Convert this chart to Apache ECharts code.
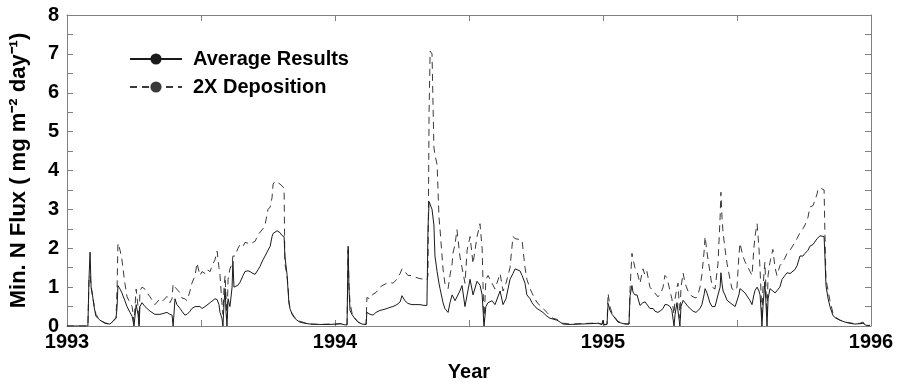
<!DOCTYPE html>
<html>
<head>
<meta charset="utf-8">
<script src="https://cdn.jsdelivr.net/npm/echarts@6/dist/echarts.min.js"></script>
<style>
html,body{margin:0;padding:0;background:#fff;}
#chart{width:898px;height:387px;}
</style>
</head>
<body>
<div id="chart"></div>
<script>
// Decimal years
var years = [1993.000,1993.078,1993.082,1993.086,1993.090,1993.093,1993.101,1993.108,1993.123,1993.142,1993.160,1993.172,1993.183,1993.187,1993.190,1993.198,1993.205,1993.216,1993.224,1993.235,1993.243,1993.250,1993.258,1993.261,1993.265,1993.269,1993.272,1993.280,1993.291,1993.299,1993.310,1993.328,1993.347,1993.358,1993.373,1993.384,1993.392,1993.396,1993.403,1993.410,1993.422,1993.429,1993.440,1993.448,1993.459,1993.466,1993.478,1993.485,1993.496,1993.504,1993.515,1993.522,1993.534,1993.541,1993.552,1993.560,1993.567,1993.571,1993.578,1993.582,1993.586,1993.590,1993.593,1993.597,1993.601,1993.608,1993.616,1993.619,1993.623,1993.627,1993.638,1993.646,1993.657,1993.664,1993.675,1993.683,1993.694,1993.702,1993.713,1993.720,1993.731,1993.739,1993.750,1993.758,1993.765,1993.769,1993.776,1993.784,1993.795,1993.802,1993.810,1993.813,1993.821,1993.825,1993.828,1993.832,1993.840,1993.847,1993.858,1993.869,1993.888,1993.907,1993.944,1993.981,1994.000,1994.019,1994.037,1994.045,1994.049,1994.052,1994.056,1994.063,1994.075,1994.086,1994.101,1994.116,1994.119,1994.131,1994.142,1994.153,1994.168,1994.179,1994.194,1994.205,1994.216,1994.231,1994.243,1994.250,1994.261,1994.272,1994.287,1994.302,1994.317,1994.332,1994.343,1994.347,1994.351,1994.355,1994.362,1994.369,1994.373,1994.381,1994.388,1994.392,1994.403,1994.410,1994.422,1994.429,1994.437,1994.440,1994.448,1994.455,1994.466,1994.474,1994.485,1994.493,1994.504,1994.515,1994.530,1994.541,1994.549,1994.556,1994.563,1994.571,1994.586,1994.597,1994.604,1994.616,1994.627,1994.638,1994.653,1994.664,1994.672,1994.679,1994.690,1994.698,1994.709,1994.716,1994.728,1994.735,1994.746,1994.754,1994.765,1994.776,1994.791,1994.802,1994.813,1994.828,1994.840,1994.851,1994.877,1994.914,1994.952,1994.981,1994.996,1995.000,1995.004,1995.015,1995.019,1995.026,1995.034,1995.045,1995.056,1995.063,1995.082,1995.097,1995.101,1995.108,1995.112,1995.119,1995.127,1995.138,1995.149,1995.157,1995.164,1995.175,1995.187,1995.194,1995.205,1995.216,1995.224,1995.231,1995.239,1995.250,1995.257,1995.265,1995.269,1995.276,1995.280,1995.287,1995.291,1995.299,1995.306,1995.317,1995.325,1995.336,1995.347,1995.354,1995.362,1995.369,1995.377,1995.381,1995.388,1995.392,1995.399,1995.407,1995.418,1995.429,1995.437,1995.440,1995.444,1995.448,1995.455,1995.463,1995.474,1995.481,1995.493,1995.500,1995.507,1995.511,1995.522,1995.530,1995.537,1995.549,1995.556,1995.563,1995.567,1995.575,1995.582,1995.586,1995.590,1995.593,1995.597,1995.604,1995.608,1995.612,1995.616,1995.623,1995.634,1995.642,1995.649,1995.660,1995.668,1995.679,1995.687,1995.698,1995.705,1995.716,1995.724,1995.735,1995.746,1995.754,1995.765,1995.772,1995.784,1995.791,1995.799,1995.802,1995.810,1995.817,1995.825,1995.828,1995.832,1995.840,1995.847,1995.858,1995.869,1995.884,1995.903,1995.922,1995.940,1995.959,1995.970,1995.981,1995.996];

// Average Results (mg m-2 day-1)
var averageResults = [0,0,1.2,1.9,1.0,0.9,0.5,0.25,0.15,0.07,0.05,0.12,0.2,0.5,1.04,0.95,0.85,0.65,0.5,0.35,0.25,0,0.55,0.6,0.3,0,0.5,0.6,0.5,0.45,0.38,0.3,0.3,0.32,0.35,0.3,0.28,0,0.7,0.55,0.45,0.38,0.28,0.3,0.38,0.45,0.5,0.55,0.5,0.45,0.5,0.55,0.6,0.62,0.7,0.68,0.55,0.35,0.2,0,0.6,0.96,0.4,0,0.7,0.5,1.0,1.67,1.0,0.96,1.05,1.13,1.3,1.4,1.42,1.4,1.35,1.33,1.45,1.53,1.7,1.8,1.95,2.05,2.3,2.38,2.42,2.45,2.4,2.33,2.3,1.8,1.33,0.9,0.6,0.45,0.3,0.22,0.15,0.1,0.07,0.05,0.04,0.04,0.05,0.06,0.03,0.03,2.05,1.0,0.4,0.3,0.18,0.1,0.05,0.04,0.35,0.3,0.28,0.35,0.4,0.42,0.45,0.48,0.5,0.55,0.62,0.78,0.65,0.58,0.55,0.55,0.55,0.53,0.53,2.5,3.2,3.19,3.0,2.6,1.8,1.4,1.1,0.96,0.6,0.45,0.35,0.6,0.8,0.75,0.65,0.6,0.9,1.04,0.5,0.8,1.2,0.8,1.15,1.05,0.8,0,0.5,0.6,0.65,0.55,0.5,0.9,0.55,0.7,1.2,1.35,1.47,1.45,1.42,1.3,1.1,0.8,0.7,0.6,0.5,0.45,0.4,0.35,0.25,0.2,0.18,0.15,0.1,0.05,0.04,0.05,0.06,0.07,0.04,0.15,0.03,0.04,0.58,0.4,0.3,0.2,0.1,0.07,0.05,0.05,0.78,1.04,0.87,0.8,0.8,0.53,0.6,0.62,0.6,0.45,0.45,0.38,0.35,0.4,0.45,0.55,0.55,0.5,0.4,0,0.3,0.6,0.6,0,0.5,0.66,0.6,0.5,0.45,0.38,0.35,0.35,0.45,0.55,0.8,0.96,0.85,0.8,0.6,0.5,0.5,0.8,1.0,1.37,1.1,0.9,0.8,0.66,0.6,0.55,0.5,0.5,0.8,0.96,0.9,0.85,0.8,0.65,0.55,0.8,0.91,1.0,0.9,0.8,0.4,0,0.5,1.14,0.6,0,0.7,0.96,0.9,0.85,0.85,1.0,1.2,1.3,1.37,1.35,1.33,1.45,1.55,1.8,1.8,1.87,1.95,2.05,2.1,2.13,2.25,2.3,2.32,2.32,2.3,1.8,1.04,0.7,0.5,0.27,0.2,0.15,0.1,0.07,0.05,0.06,0.07,0.02,0.01];

// 2X Deposition (mg m-2 day-1)
var twoXDeposition = [0,0,1.2,1.3,1.0,0.85,0.55,0.3,0.15,0.08,0.05,0.13,0.22,1.0,2.13,1.95,1.7,1.1,0.75,0.6,0.5,0.1,0.95,1.0,0.5,0.05,0.9,1.0,0.95,0.85,0.75,0.55,0.7,0.65,0.76,0.6,0.7,1.08,1.0,0.95,0.85,0.72,0.7,0.65,0.9,1.1,1.3,1.62,1.3,1.4,1.35,1.45,1.4,1.55,1.7,1.93,1.5,1.3,0.6,0.3,1.0,1.3,0.8,0.2,1.2,1.47,1.6,1.8,1.75,1.8,2.0,2.1,2.05,2.15,2.13,2.1,2.15,2.18,2.35,2.3,2.5,2.6,3.0,3.06,3.3,3.65,3.72,3.7,3.65,3.6,3.55,1.6,1.3,1.0,0.65,0.45,0.32,0.25,0.17,0.12,0.08,0.05,0.04,0.05,0.04,0.06,0.04,0.03,1.95,1.1,0.6,0.35,0.2,0.1,0.05,0.04,0.73,0.7,0.82,0.86,1.0,1.05,1.1,1.12,1.1,1.2,1.35,1.47,1.4,1.3,1.3,1.25,1.22,1.2,1.18,1.3,5.5,7.07,7.0,4.6,4.4,4.15,2.8,2.48,1.47,1.1,0.96,1.3,1.6,1.87,2.1,2.48,1.8,1.5,1.1,1.95,2.3,1.6,2.3,2.63,2.0,0.1,1.2,1.3,1.1,0.95,0.9,1.35,0.9,1.1,1.5,2.3,2.25,2.25,2.22,2.2,1.5,1.2,0.96,0.85,0.7,0.6,0.53,0.45,0.35,0.27,0.2,0.17,0.12,0.07,0.05,0.06,0.07,0.08,0.04,0.15,0.03,0.05,0.84,0.5,0.33,0.22,0.12,0.08,0.06,0.05,0.96,1.87,1.85,1.5,1.4,1.1,1.47,1.3,1.4,1.0,0.9,0.85,0.75,0.85,1.0,1.3,1.24,0.9,0.7,0.3,0.7,1.0,1.1,0.2,1.0,1.36,1.1,0.9,0.8,0.75,0.72,0.8,1.0,1.32,1.9,2.3,1.9,1.7,1.4,1.0,0.95,1.6,2.8,3.44,2.8,2.4,2.0,1.6,1.2,0.96,0.9,1.0,1.8,2.13,1.8,1.65,1.6,1.4,1.3,2.0,2.3,2.63,2.0,1.45,0.8,0.2,1.0,1.64,1.0,0.3,1.3,1.64,1.97,1.5,1.3,1.55,1.62,1.75,1.87,1.95,2.0,2.15,2.25,2.4,2.5,2.6,2.8,3.06,3.1,3.14,3.4,3.52,3.55,3.52,3.5,2.4,1.2,0.9,0.65,0.33,0.22,0.15,0.1,0.08,0.06,0.07,0.1,0.03,0.02];

var seriesNames = ['Average Results', '2X Deposition'];
var xTickLabels = ['1993', '1994', '1995', '1996'];
var yTickLabels = ['0','1','2','3','4','5','6','7','8'];

function pairs(vals) {
  var out = [];
  for (var i = 0; i < years.length && i < vals.length; i++) out.push([years[i], vals[i]]);
  return out;
}

var FONT = "'Liberation Sans', Arial, Helvetica, sans-serif";
var axisGray = '#808080';

var chart = echarts.init(document.getElementById('chart'), null, {renderer: 'canvas'});
var tickCommon = {show: true, inside: true, length: 6, lineStyle: {color: axisGray, width: 1}};
var lineCommon = {show: true, onZero: false, lineStyle: {color: axisGray, width: 1}};

chart.setOption({
  animation: false,
  backgroundColor: '#ffffff',
  grid: {left: 67, right: 27, top: 15, bottom: 56, containLabel: false},
  legend: {
    show: true,
    orient: 'vertical',
    left: 124,
    top: 44,
    itemWidth: 52,
    itemHeight: 14,
    itemGap: 8,
    data: [seriesNames[0], seriesNames[1]],
    textStyle: {fontFamily: FONT, fontWeight: 'bold', fontSize: 20, color: '#000', padding: [0, 0, 0, 6]}
  },
  xAxis: [
    {
      type: 'value', position: 'bottom', min: 1993, max: 1996, interval: 0.5,
      name: 'Year', nameLocation: 'middle', nameGap: 36,
      nameTextStyle: {fontFamily: FONT, fontWeight: 'bold', fontSize: 20, color: '#000'},
      axisLine: lineCommon, axisTick: tickCommon, splitLine: {show: false},
      axisLabel: {
        margin: 6, fontFamily: FONT, fontWeight: 'bold', fontSize: 20, color: '#000',
        formatter: function (v) {
          var idx = Math.round(v - 1993);
          return (Math.abs(v - Math.round(v)) < 1e-6 && xTickLabels[idx]) ? xTickLabels[idx] : '';
        }
      }
    },
    {
      type: 'value', position: 'top', min: 1993, max: 1996, interval: 0.5,
      axisLine: lineCommon, axisTick: tickCommon, splitLine: {show: false},
      axisLabel: {show: false}
    }
  ],
  yAxis: [
    {
      type: 'value', position: 'left', min: 0, max: 8, interval: 0.5,
      name: 'Min. N Flux ( mg m\u207B\u00B2 day\u207B\u00B9)', nameLocation: 'middle', nameGap: 37, nameRotate: 90,
      nameTextStyle: {fontFamily: FONT, fontWeight: 'bold', fontSize: 22, color: '#000'},
      axisLine: lineCommon, axisTick: tickCommon, splitLine: {show: false},
      axisLabel: {
        margin: 8, fontFamily: FONT, fontWeight: 'bold', fontSize: 20, color: '#000',
        formatter: function (v) {
          var idx = Math.round(v);
          return (Math.abs(v - idx) < 1e-6 && yTickLabels[idx]) ? yTickLabels[idx] : '';
        }
      }
    },
    {
      type: 'value', position: 'right', min: 0, max: 8, interval: 0.5,
      axisLine: lineCommon, axisTick: tickCommon, splitLine: {show: false},
      axisLabel: {show: false}
    }
  ],
  series: [
    {
      name: seriesNames[0], type: 'line', xAxisIndex: 0, yAxisIndex: 0,
      data: pairs(averageResults), symbol: 'none', showSymbol: false,
      lineStyle: {color: '#1a1a1a', width: 1, type: 'solid'},
      itemStyle: {color: '#1a1a1a'}, z: 3
    },
    {
      name: seriesNames[1], type: 'line', xAxisIndex: 0, yAxisIndex: 0,
      data: pairs(twoXDeposition), symbol: 'none', showSymbol: false,
      lineStyle: {color: '#3a3a3a', width: 1, type: [7, 5]},
      itemStyle: {color: '#3a3a3a'}, z: 2
    }
  ]
});
</script>
</body>
</html>
